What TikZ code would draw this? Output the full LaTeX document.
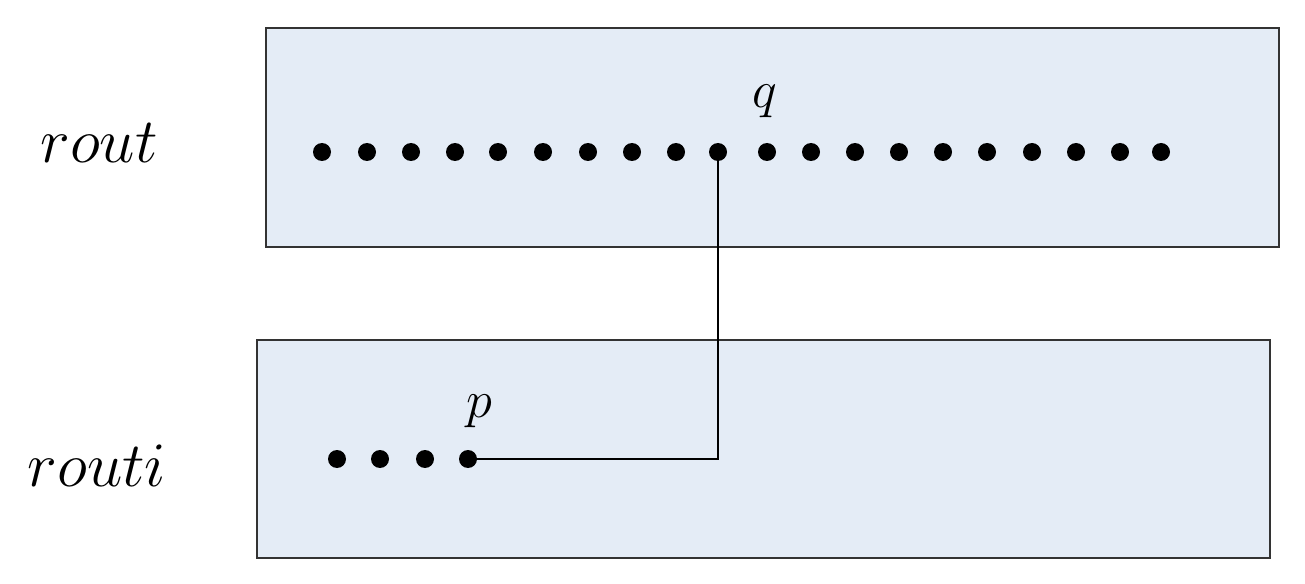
\documentclass[tikz,border=0pt]{standalone}
\usepackage{graphicx}
\begin{document}
\begin{tikzpicture}[x=0.02cm,y=-0.02cm,
  box/.style={draw=black!80,line width=0.8pt,fill={rgb,255:red,228;green,236;blue,246}},
  dot/.style={circle,fill=black,inner sep=0pt,minimum size=0.36cm},
  lab/.style={font=\fontsize{24}{30}\selectfont},
  sm/.style={font=\fontsize{24}{30}\selectfont}]
\useasboundingbox (0,0) rectangle (1305,584);
\draw[box] (266,28) rectangle (1279,247);
\draw[box] (257,340) rectangle (1270,558);
\foreach \x [count=\i] in {322,367,411,455,498,543,588,632,676,718,767,811,855,899,943,987,1032,1076,1120,1161}
  \node[dot] (t\i) at (\x,152) {};
\foreach \x [count=\i] in {337,380,425,468}
  \node[dot] (b\i) at (\x,459) {};
\node[lab] (l1) at (99,143) {\scalebox{1.45}{$rout$}};
\node[lab] (l2) at (97,466) {\scalebox{1.45}{$routi$}};
\node[sm] (q) at (765,101) {\scalebox{1.2}{$q$}};
\node[sm] (p) at (479,411) {\scalebox{1.2}{$p$}};
\draw[line width=0.8pt] (t10.center) |- (b4.center);
\end{tikzpicture}
\end{document}
